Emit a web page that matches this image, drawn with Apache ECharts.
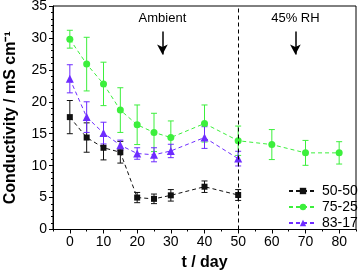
<!DOCTYPE html>
<html><head><meta charset="utf-8">
<script src="https://cdn.jsdelivr.net/npm/echarts@6/dist/echarts.min.js"></script>
<style>html,body{margin:0;padding:0;background:#fff}#c{width:359px;height:274px}</style>
</head><body><div id="c"></div>
<script>
// ---- data ----
const xTicks = [0, 10, 20, 30, 40, 50, 60, 70, 80];
const yTicks = [0, 5, 10, 15, 20, 25, 30, 35];
const names = ['50-50', '75-25', '83-17'];
const days50 = [0, 5, 10, 15, 20, 25, 30, 40, 50];
const cond50 = [17.6, 14.4, 12.8, 12.1, 5.0, 4.8, 5.35, 6.7, 5.4];
const err50  = [2.6, 2.3, 1.9, 1.7, 0.8, 0.75, 0.9, 0.9, 0.85];
const days75 = [0, 5, 10, 15, 20, 25, 30, 40, 50, 60, 70, 80];
const cond75 = [29.8, 25.9, 22.8, 18.7, 16.4, 15.2, 14.4, 16.6, 13.9, 13.3, 12.0, 12.0];
const err75  = [1.4, 4.2, 3.4, 3.5, 3.1, 3.0, 2.6, 2.9, 2.3, 2.35, 1.95, 1.75];
const days83 = [0, 5, 10, 15, 20, 25, 30, 40, 50];
const cond83 = [23.6, 17.6, 15.1, 13.2, 11.9, 11.7, 12.3, 14.4, 11.1];
const err83  = [2.2, 2.4, 1.7, 0.8, 0.9, 1.1, 1.05, 1.7, 1.15];
const dividerDay = 50;
const annotations = [{ text: 'Ambient', day: 27.5 }, { text: '45% RH', day: 67 }];
const arrowFrom = 31.0, arrowTo = 27.4, annotTextAt = 32.1;

// ---- styles ----
const colors = ['#111111', '#3cef3c', '#6e2cff'];
const symbols = ['rect', 'circle', 'triangle'];
const symSizes = [6, 7, 8];
const FONT = 'Liberation Sans, Arial, sans-serif';

const sets = [
  [days50, cond50, err50],
  [days75, cond75, err75],
  [days83, cond83, err83]
];

function errSeries(i) {
  const [d, c, e] = sets[i];
  const col = colors[i];
  return {
    type: 'custom', name: names[i] + ' err', z: 2,
    silent: true,
    data: d.map((x, k) => [x, c[k], e[k]]),
    encode: { x: 0, y: 1 },
    renderItem: function (params, api) {
      const x = api.value(0), y = api.value(1), e = api.value(2);
      const t = api.coord([x, y + e]), b = api.coord([x, y - e]);
      const w = 3;
      const st = { stroke: col, lineWidth: 1 };
      return { type: 'group', children: [
        { type: 'line', shape: { x1: t[0], y1: t[1], x2: b[0], y2: b[1] }, style: st },
        { type: 'line', shape: { x1: t[0] - w, y1: t[1], x2: t[0] + w, y2: t[1] }, style: st },
        { type: 'line', shape: { x1: b[0] - w, y1: b[1], x2: b[0] + w, y2: b[1] }, style: st }
      ]};
    }
  };
}

function lineSeries(i) {
  const [d, c] = sets[i];
  return {
    type: 'line', name: names[i], z: 3,
    data: d.map((x, k) => [x, c[k]]),
    symbol: symbols[i], symbolSize: symSizes[i], showAllSymbol: true,
    itemStyle: { color: colors[i] },
    lineStyle: { color: colors[i], width: 1, type: [4, 3] },
    animation: false
  };
}

const chart = echarts.init(document.getElementById('c'), null, { renderer: 'canvas' });
const series = [errSeries(0), errSeries(1), errSeries(2), lineSeries(0), lineSeries(1), lineSeries(2)];
series[3].markLine = {
  silent: true, symbol: ['none', 'none'], label: { show: false },
  lineStyle: { color: '#000', width: 1, type: [4, 3] },
  data: [{ xAxis: dividerDay }]
};
series[4].markLine = {
  silent: true, symbol: ['none', 'arrow'], symbolSize: [8, 10],
  label: { show: false },
  lineStyle: { color: '#000', width: 1.5, type: 'solid' },
  data: annotations.map(a => [{ coord: [a.day, arrowFrom] }, { coord: [a.day, arrowTo] }])
};

chart.setOption({
  animation: false,
  textStyle: { fontFamily: FONT },
  grid: { left: 53, right: 3, top: 6, bottom: 44.5, show: true, borderColor: '#000', borderWidth: 1,
          containLabel: false, outerBoundsMode: 'none' },
  legend: {
    data: names,
    orient: 'vertical', left: 283, top: 179,
    itemWidth: 28, itemHeight: 8, itemGap: 2,
    textStyle: { fontSize: 14, color: '#000', fontFamily: FONT }
  },
  xAxis: [{
    type: 'value', min: -5, max: 85, interval: 10,
    name: 't / day', nameLocation: 'middle', nameGap: 24,
    nameTextStyle: { fontSize: 16, fontWeight: 'bold', color: '#000', fontFamily: FONT },
    axisLine: { show: true, onZero: false, lineStyle: { color: '#000', width: 1 } },
    axisTick: { show: true, inside: false, length: 4, lineStyle: { color: '#000' }, customValues: xTicks },
    axisLabel: { fontSize: 14, color: '#000', margin: 6, customValues: xTicks },
    splitLine: { show: false }
  }, {
    // minor ticks (at -5, 5, 15, ...)
    type: 'value', min: -5, max: 85, interval: 10, position: 'bottom',
    axisLine: { show: false, onZero: false },
    axisTick: { show: true, inside: false, length: 2, lineStyle: { color: '#000' } },
    axisLabel: { show: false },
    splitLine: { show: false }
  }],
  yAxis: {
    type: 'value', min: 0, max: 35, interval: 5,
    name: 'Conductivity / mS cm\u207B\u00B9', nameLocation: 'middle', nameGap: 34,
    nameTextStyle: { fontSize: 16, fontWeight: 'bold', color: '#000', fontFamily: FONT },
    axisLine: { show: true, onZero: false, lineStyle: { color: '#000', width: 1 } },
    axisTick: { show: true, inside: false, length: 4, lineStyle: { color: '#000' } },
    minorTick: { show: true, splitNumber: 5, length: 2, lineStyle: { color: '#000' } },
    axisLabel: { fontSize: 14, color: '#000', margin: 6, formatter: v => yTicks.includes(v) ? String(v) : '' },
    splitLine: { show: false }
  },
  series: series
});

// annotation texts placed via library coordinate conversion
const g = annotations.map(a => {
  const p = chart.convertToPixel({ gridIndex: 0 }, [a.day, annotTextAt]);
  return { type: 'text', x: p[0], y: p[1], style: { text: a.text, fill: '#000', font: '13px ' + FONT, align: 'center', verticalAlign: 'bottom' } };
});
chart.setOption({ graphic: g });
</script></body></html>
